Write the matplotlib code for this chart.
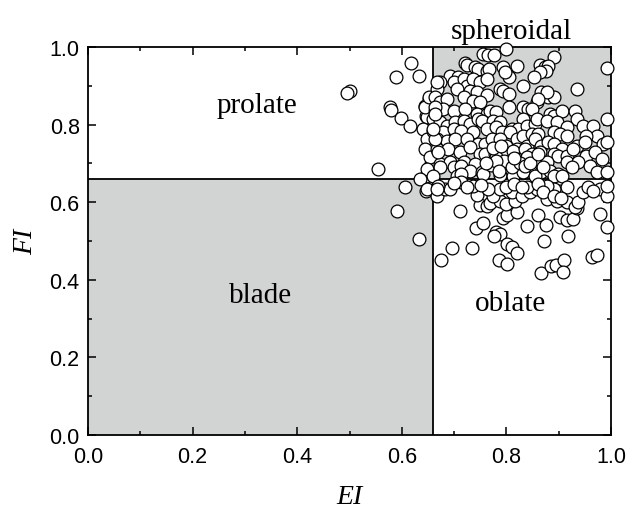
import matplotlib
matplotlib.use("Agg")
import matplotlib.pyplot as plt
from matplotlib.patches import Rectangle
from matplotlib.ticker import MultipleLocator

# class boundary for the shape indices
limit = 0.66

# particles left of the EI limit (prolate / blade side)
prolate_ei = [0.617, 0.589, 0.633, 0.500, 0.496, 0.577, 0.579, 0.598, 0.616,
              0.555, 0.606, 0.591, 0.633, 0.644, 0.651, 0.657, 0.647, 0.654,
              0.651, 0.655, 0.654, 0.646, 0.647, 0.648, 0.641, 0.644, 0.648,
              0.644, 0.651, 0.654, 0.648, 0.635, 0.648]
prolate_fi = [0.960, 0.922, 0.924, 0.887, 0.881, 0.845, 0.838, 0.816, 0.796,
              0.686, 0.638, 0.577, 0.505, 0.849, 0.866, 0.853, 0.823, 0.814,
              0.797, 0.737, 0.694, 0.668, 0.630, 0.819, 0.789, 0.845, 0.763,
              0.737, 0.870, 0.716, 0.686, 0.660, 0.634]

# particles with EI and FI above the limit
spheroidal_ei = [
    0.756, 0.765, 0.776, 0.799, 0.890, 0.721, 0.724, 0.740, 0.746, 0.762,
    0.767, 0.794, 0.820, 0.864, 0.874, 0.880, 0.876, 0.864, 0.852, 0.992,
    0.692, 0.708, 0.699, 0.718, 0.724, 0.737, 0.750, 0.762, 0.804, 0.797,
    0.673, 0.667, 0.705, 0.730, 0.743, 0.762, 0.788, 0.794, 0.804, 0.832,
    0.934, 0.867, 0.880, 0.890, 0.877, 0.663, 0.673, 0.686, 0.718, 0.737,
    0.750, 0.832, 0.842, 0.858, 0.861, 0.663, 0.679, 0.699, 0.721, 0.743,
    0.762, 0.769, 0.781, 0.804, 0.832, 0.848, 0.883, 0.890, 0.906, 0.931,
    0.934, 0.660, 0.673, 0.686, 0.702, 0.718, 0.730, 0.746, 0.753, 0.775,
    0.788, 0.810, 0.823, 0.839, 0.855, 0.858, 0.877, 0.896, 0.915, 0.947,
    0.966, 0.993, 0.660, 0.679, 0.699, 0.714, 0.737, 0.762, 0.781, 0.791,
    0.807, 0.820, 0.832, 0.848, 0.861, 0.890, 0.902, 0.915, 0.973, 0.953,
    0.667, 0.686, 0.702, 0.724, 0.746, 0.759, 0.772, 0.788, 0.800, 0.820,
    0.839, 0.855, 0.867, 0.880, 0.890, 0.906, 0.934, 0.950, 0.985, 0.667,
    0.689, 0.711, 0.730, 0.750, 0.759, 0.778, 0.794, 0.813, 0.836, 0.848,
    0.864, 0.890, 0.899, 0.915, 0.928, 0.953, 0.969, 0.992, 0.673, 0.692,
    0.718, 0.740, 0.781, 0.807, 0.820, 0.839, 0.858, 0.877, 0.915, 0.937,
    0.960, 0.982, 0.673, 0.699, 0.714, 0.730, 0.753, 0.791, 0.807, 0.826,
    0.848, 0.867, 0.883, 0.899, 0.925, 0.973, 0.992, 0.705, 0.714, 0.756,
    0.788, 0.813, 0.832, 0.855, 0.890, 0.906, 0.663, 0.663, 0.663, 0.660,
    0.660, 0.667, 0.670, 0.800, 0.795, 0.810, 0.825, 0.815, 0.770, 0.780,
    0.760, 0.785, 0.835, 0.845, 0.870, 0.860, 0.775, 0.790]
spheroidal_fi = [
    0.982, 0.979, 0.979, 0.995, 0.973, 0.960, 0.954, 0.948, 0.943, 0.939,
    0.942, 0.948, 0.952, 0.954, 0.948, 0.952, 0.939, 0.935, 0.922, 0.945,
    0.926, 0.922, 0.909, 0.918, 0.900, 0.918, 0.909, 0.918, 0.922, 0.935,
    0.909, 0.892, 0.892, 0.887, 0.883, 0.875, 0.892, 0.887, 0.879, 0.900,
    0.892, 0.883, 0.870, 0.870, 0.883, 0.870, 0.857, 0.866, 0.870, 0.862,
    0.857, 0.845, 0.840, 0.857, 0.866, 0.836, 0.840, 0.836, 0.840, 0.827,
    0.827, 0.836, 0.832, 0.845, 0.814, 0.840, 0.827, 0.823, 0.836, 0.836,
    0.814, 0.814, 0.806, 0.797, 0.806, 0.810, 0.802, 0.814, 0.810, 0.810,
    0.806, 0.789, 0.789, 0.796, 0.802, 0.814, 0.810, 0.806, 0.793, 0.797,
    0.797, 0.814, 0.784, 0.780, 0.789, 0.784, 0.780, 0.789, 0.793, 0.780,
    0.780, 0.763, 0.771, 0.776, 0.776, 0.780, 0.776, 0.771, 0.771, 0.771,
    0.763, 0.759, 0.763, 0.763, 0.750, 0.750, 0.763, 0.763, 0.746, 0.737,
    0.746, 0.763, 0.746, 0.754, 0.750, 0.737, 0.746, 0.754, 0.750, 0.737,
    0.737, 0.729, 0.741, 0.724, 0.724, 0.724, 0.729, 0.733, 0.737, 0.724,
    0.729, 0.724, 0.720, 0.720, 0.737, 0.720, 0.729, 0.754, 0.698, 0.703,
    0.703, 0.698, 0.716, 0.707, 0.711, 0.716, 0.707, 0.703, 0.703, 0.703,
    0.694, 0.711, 0.690, 0.690, 0.694, 0.681, 0.677, 0.686, 0.677, 0.686,
    0.681, 0.677, 0.681, 0.673, 0.690, 0.677, 0.677, 0.668, 0.673, 0.673,
    0.670, 0.668, 0.677, 0.668, 0.668, 0.668, 0.845, 0.827, 0.763, 0.789,
    0.668, 0.909, 0.729, 0.700, 0.705, 0.690, 0.700, 0.715, 0.695, 0.705,
    0.700, 0.680, 0.693, 0.700, 0.690, 0.725, 0.740, 0.745]

# particles with EI above and FI below the limit
oblate_ei = [
    0.711, 0.695, 0.674, 0.734, 0.742, 0.756, 0.780, 0.788, 0.776, 0.802,
    0.810, 0.821, 0.786, 0.802, 0.872, 0.867, 0.885, 0.895, 0.910, 0.908,
    0.918, 0.840, 0.876, 0.861, 0.964, 0.973, 0.979, 0.992, 0.794, 0.802,
    0.821, 0.902, 0.915, 0.928, 0.934, 0.750, 0.762, 0.769, 0.743, 0.788,
    0.800, 0.816, 0.810, 0.775, 0.788, 0.765, 0.829, 0.845, 0.858, 0.839,
    0.877, 0.896, 0.915, 0.931, 0.937, 0.947, 0.902, 0.915, 0.890, 0.877,
    0.979, 0.992, 0.992, 0.667, 0.683, 0.692, 0.670, 0.714, 0.737, 0.667,
    0.700, 0.725, 0.752, 0.800, 0.815, 0.830, 0.860, 0.870, 0.890, 0.905,
    0.955, 0.965]
oblate_fi = [
    0.577, 0.481, 0.450, 0.481, 0.533, 0.546, 0.523, 0.518, 0.514, 0.492,
    0.484, 0.469, 0.450, 0.440, 0.501, 0.418, 0.435, 0.437, 0.450, 0.421,
    0.514, 0.538, 0.540, 0.567, 0.459, 0.464, 0.570, 0.535, 0.559, 0.567,
    0.574, 0.561, 0.555, 0.557, 0.584, 0.593, 0.591, 0.598, 0.619, 0.602,
    0.596, 0.602, 0.626, 0.617, 0.634, 0.634, 0.617, 0.626, 0.634, 0.639,
    0.608, 0.604, 0.600, 0.587, 0.600, 0.626, 0.630, 0.639, 0.634, 0.643,
    0.634, 0.617, 0.643, 0.617, 0.634, 0.634, 0.643, 0.651, 0.643, 0.634,
    0.650, 0.640, 0.645, 0.640, 0.648, 0.640, 0.648, 0.625, 0.615, 0.610,
    0.640, 0.630]

region_names = ["prolate", "blade", "oblate", "spheroidal"]
region_x = [0.323, 0.33, 0.807, 0.81]
region_y = [0.85, 0.36, 0.34, 1.0]

fig = plt.figure(figsize=(6.26, 5.10), dpi=100)
ax = fig.add_axes([0.1406, 0.1451, 0.8355, 0.7608])

grey = "#d2d3d3"
ax.add_patch(Rectangle((0, 0), limit, limit, facecolor=grey, edgecolor="none", zorder=0))
ax.add_patch(Rectangle((limit, limit), 1 - limit, 1 - limit, facecolor=grey,
                       edgecolor="none", zorder=0))
ax.axvline(limit, color="black", lw=1.3, zorder=1)
ax.axhline(limit, color="black", lw=1.3, zorder=1)

for ei, fi in [(prolate_ei, prolate_fi), (spheroidal_ei, spheroidal_fi),
               (oblate_ei, oblate_fi)]:
    ax.scatter(ei, fi, s=85, facecolor="white", edgecolor="black",
               linewidth=0.9, zorder=3, clip_on=False)

serif = "Liberation Serif"
for name, x, y in zip(region_names, region_x, region_y):
    va = "bottom" if name == "spheroidal" else "center"
    ax.text(x, y + (0.008 if va == "bottom" else 0), name, ha="center", va=va,
            fontsize=21, family=serif, zorder=4)

ax.set_xlim(0, 1)
ax.set_ylim(0, 1)
ax.xaxis.set_major_locator(MultipleLocator(0.2))
ax.xaxis.set_minor_locator(MultipleLocator(0.1))
ax.yaxis.set_major_locator(MultipleLocator(0.2))
ax.yaxis.set_minor_locator(MultipleLocator(0.1))
ax.tick_params(which="both", direction="in", top=True, right=True, width=1.1)
ax.tick_params(which="major", length=6, labelsize=15.5)
ax.tick_params(which="minor", length=3)
ax.tick_params(axis="x", which="major", pad=8)
ax.tick_params(axis="y", which="major", pad=6)
for lab in ax.get_xticklabels() + ax.get_yticklabels():
    lab.set_family("Liberation Sans")
for sp in ax.spines.values():
    sp.set_linewidth(1.3)

ax.set_xlabel("EI", family=serif, style="italic", fontsize=20, labelpad=12)
ax.set_ylabel("FI", family=serif, style="italic", fontsize=20, labelpad=8)

fig.savefig("out.png", dpi=100)
